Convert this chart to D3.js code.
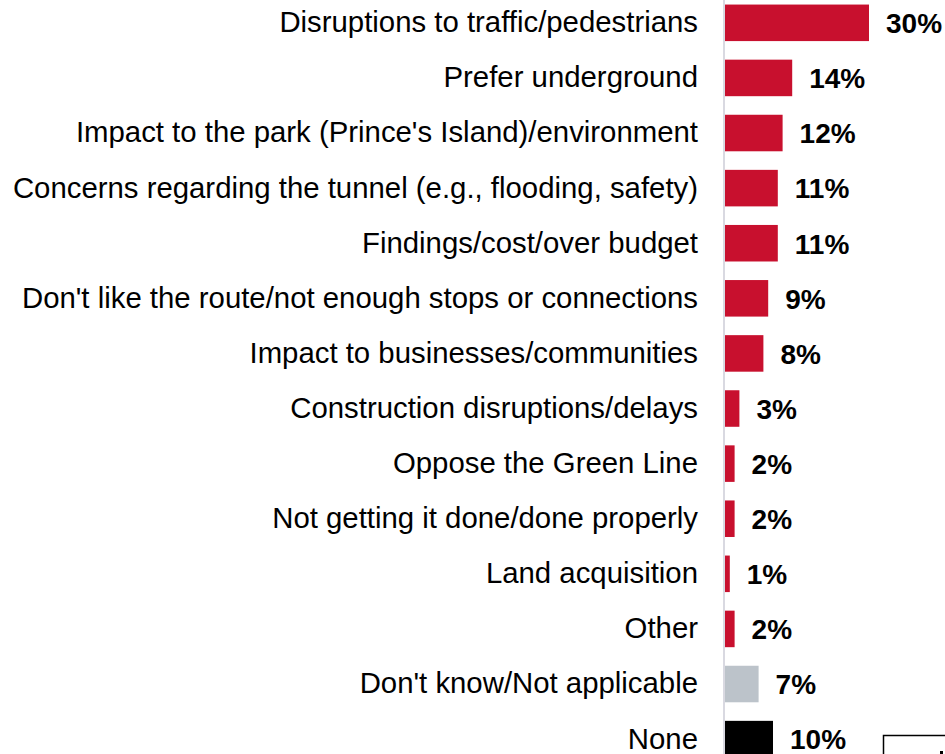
<!DOCTYPE html>
<html>
<head>
<meta charset="utf-8">
<script src="https://cdn.jsdelivr.net/npm/d3@7"></script>
<style>
  html, body { margin: 0; padding: 0; background: #fff; }
  svg { display: block; }
</style>
</head>
<body>
<svg id="chart" width="945" height="754"></svg>
<script>
// Reasons given for opposing the project (% of respondents)
const categories = [
  "Disruptions to traffic/pedestrians",
  "Prefer underground",
  "Impact to the park (Prince's Island)/environment",
  "Concerns regarding the tunnel (e.g., flooding, safety)",
  "Findings/cost/over budget",
  "Don't like the route/not enough stops or connections",
  "Impact to businesses/communities",
  "Construction disruptions/delays",
  "Oppose the Green Line",
  "Not getting it done/done properly",
  "Land acquisition",
  "Other",
  "Don't know/Not applicable",
  "None"
];
const values = [30, 14, 12, 11, 11, 9, 8, 3, 2, 2, 1, 2, 7, 10];
const groups = ["reason", "reason", "reason", "reason", "reason", "reason", "reason",
                "reason", "reason", "reason", "reason", "reason", "dk", "none"];

const colorFor = { reason: "#c8102e", dk: "#bcc3ca", none: "#000000" };

const svg = d3.select("#chart");
const font = "'Liberation Sans', Arial, Helvetica, sans-serif";

const x = d3.scaleLinear().domain([0, 30]).range([725, 869]);
const step = 55.1;
const y = d3.scaleBand()
  .domain(categories)
  .range([-4.73, -4.73 + categories.length * step])
  .paddingInner(0.337)
  .paddingOuter(0.337 / 2);

const data = categories.map((c, i) => ({ cat: c, value: values[i], group: groups[i] }));

// bars
svg.append("g").selectAll("rect")
  .data(data)
  .join("rect")
  .attr("x", x(0))
  .attr("y", d => y(d.cat))
  .attr("width", d => x(d.value) - x(0))
  .attr("height", y.bandwidth())
  .attr("fill", d => colorFor[d.group]);

// category axis line
svg.append("line")
  .attr("x1", x(0) - 1).attr("x2", x(0) - 1)
  .attr("y1", 0).attr("y2", 754)
  .attr("stroke", "#d9d9e1")
  .attr("stroke-width", 2);

// category labels
svg.append("g").selectAll("text")
  .data(data)
  .join("text")
  .attr("x", x(0) - 27)
  .attr("y", d => y(d.cat) + y.bandwidth() / 2)
  .attr("dy", "0.32em")
  .attr("text-anchor", "end")
  .attr("font-family", font)
  .attr("font-size", 29.35)
  .attr("fill", "#000")
  .text(d => d.cat);

// value labels
svg.append("g").selectAll("text")
  .data(data)
  .join("text")
  .attr("x", d => x(d.value) + 17)
  .attr("y", d => y(d.cat) + y.bandwidth() / 2)
  .attr("dy", "0.37em")
  .attr("font-family", font)
  .attr("font-size", 28)
  .attr("font-weight", "bold")
  .attr("fill", "#000")
  .text(d => d.value + "%");

// legend frame at lower right
svg.append("rect")
  .attr("x", 883.5).attr("y", 735.5)
  .attr("width", 100).attr("height", 60)
  .attr("fill", "none")
  .attr("stroke", "#000")
  .attr("stroke-width", 1.5);
svg.append("rect")
  .attr("x", 940).attr("y", 751)
  .attr("width", 3).attr("height", 3)
  .attr("fill", "#000");
</script>
</body>
</html>
